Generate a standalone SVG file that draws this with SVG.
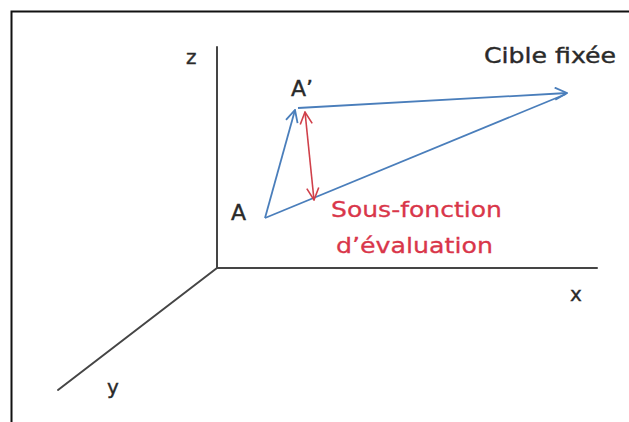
<svg xmlns="http://www.w3.org/2000/svg" width="629" height="422" viewBox="0 0 629 422">
<defs>
<style>
.axis{stroke:#454545;stroke-width:2;fill:none;stroke-linecap:round}
.blue{stroke:#4a7ebb;stroke-width:1.8;fill:none}
.red{stroke:#d0404a;stroke-width:1.6;fill:none}
.lbl{font-family:"DejaVu Sans",sans-serif;fill:#2a2a2a;stroke:#2a2a2a;stroke-width:0.4}
.rlbl{font-family:"DejaVu Sans",sans-serif;fill:#d9364a;stroke:#d9364a;stroke-width:0.3;font-size:22px}
</style>
<marker id="hb" viewBox="0 0 14 14" refX="13" refY="7" markerWidth="14" markerHeight="14" markerUnits="userSpaceOnUse" orient="auto-start-reverse">
<path d="M1,1 L13,7 L1,13" fill="none" stroke="#4a7ebb" stroke-width="1.8"/>
</marker>
<marker id="hr" viewBox="0 0 14 14" refX="13" refY="7" markerWidth="14" markerHeight="14" markerUnits="userSpaceOnUse" orient="auto-start-reverse">
<path d="M1,1 L13,7 L1,13" fill="none" stroke="#d0404a" stroke-width="1.6"/>
</marker>
</defs>
<rect x="0" y="0" width="629" height="422" fill="#ffffff"/>
<rect x="11.5" y="11.5" width="700" height="500" fill="none" stroke="#111" stroke-width="2"/>
<g id="axes">
<line class="axis" x1="217" y1="47" x2="217" y2="268"/>
<line class="axis" x1="217" y1="268" x2="597" y2="268"/>
<line class="axis" x1="217" y1="268" x2="58" y2="390"/>
</g>
<g id="axis-labels">
<text class="lbl" x="186" y="64" font-size="20">z</text>
<text class="lbl" x="570" y="301" font-size="20">x</text>
<text class="lbl" x="107" y="394" font-size="20">y</text>
</g>
<g id="connectors">
<line class="blue" x1="265" y1="218" x2="295" y2="110" marker-end="url(#hb)"/>
<line class="blue" x1="298" y1="108" x2="567" y2="93" marker-end="url(#hb)"/>
<line class="blue" x1="265" y1="218" x2="566" y2="94"/>
<line class="red" x1="305" y1="112" x2="314" y2="200" marker-start="url(#hr)" marker-end="url(#hr)"/>
</g>
<g id="node-A">
<text class="lbl" x="231" y="220" font-size="22">A</text>
</g>
<g id="node-Aprime">
<text class="lbl" x="291" y="96" font-size="22">A’</text>
</g>
<g id="node-cible">
<text class="lbl" x="484" y="63" font-size="22" textLength="132" lengthAdjust="spacingAndGlyphs">Cible fixée</text>
</g>
<g id="node-sousfonction">
<text class="rlbl" x="331" y="217" textLength="171" lengthAdjust="spacingAndGlyphs">Sous-fonction</text>
<text class="rlbl" x="336" y="253" textLength="157" lengthAdjust="spacingAndGlyphs">d’évaluation</text>
</g>
</svg>
